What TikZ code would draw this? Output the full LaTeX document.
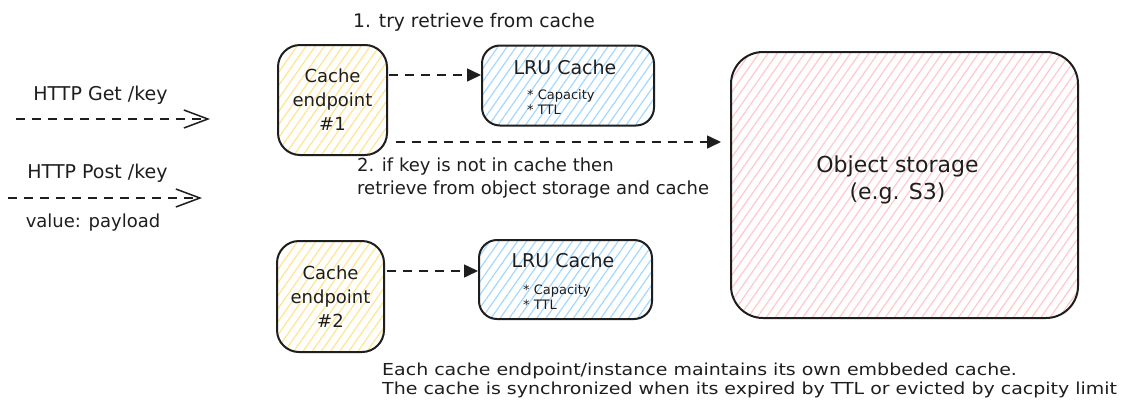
\documentclass[tikz,border=0pt]{standalone}
\usepackage{fontspec}
\setmainfont{DejaVu Sans}
\newfontfamily\widefont[FakeStretch=1.15]{DejaVu Sans}
\usetikzlibrary{arrows.meta,patterns.meta,calc}
\definecolor{ink}{HTML}{1E1E1E}
\definecolor{hyellow}{HTML}{FFE58F}
\definecolor{hblue}{HTML}{A5D8FF}
\definecolor{hred}{HTML}{FFC9C9}
\tikzset{
  box/.style={draw=ink, line width=2pt, inner sep=0pt, text=ink},
  epbox/.style={box, rounded corners=22pt, minimum width=108pt, minimum height=110pt,
    pattern={Lines[angle=55,distance=7.5pt,line width=1.2pt]}, pattern color=hyellow,
    font=\fontsize{18}{24}\selectfont, align=center},
  lrubox/.style={box, rounded corners=18pt, minimum width=172pt, minimum height=80pt,
    pattern={Lines[angle=55,distance=7.5pt,line width=1.2pt]}, pattern color=hblue},
  objbox/.style={box, rounded corners=32pt, minimum width=347pt, minimum height=266pt,
    pattern={Lines[angle=55,distance=7.5pt,line width=1.2pt]}, pattern color=hred},
  lrutitle/.style={text=ink, inner sep=0pt, font=\fontsize{19}{23}\selectfont},
  lrubul/.style={text=ink, inner sep=0pt, anchor=west, align=left, font=\fontsize{13}{15}\selectfont},
  objtext/.style={text=ink, inner sep=0pt, align=center, font=\fontsize{22}{27}\selectfont},
  label/.style={text=ink, inner sep=0pt, font=\fontsize{18}{23}\selectfont},
  httplabel/.style={label, font=\fontsize{19}{23}\selectfont},
  note/.style={text=ink, inner sep=0pt, anchor=west, align=left, font=\widefont\fontsize{16.5}{19}\selectfont},
  flow/.style={draw=ink, line width=1.5pt, dash pattern=on 9pt off 7pt, -{Triangle[length=14pt,width=13pt]}},
  http/.style={draw=ink, line width=1.5pt, dash pattern=on 9pt off 7pt, -{Straight Barb[length=24pt,width=18pt]}},
}
\begin{document}
\begin{tikzpicture}[x=1pt,y=-1pt]
\fill[white] (0,0) rectangle (1123,418);
\useasboundingbox (0,0) rectangle (1123,418);

% boxes
\node[epbox, minimum width=109pt, minimum height=110pt] (ep1) at (332.5,100) {Cache\\endpoint\\\#1};
\node[epbox, minimum width=107pt, minimum height=111pt] (ep2) at (330.5,296.5) {Cache\\endpoint\\\#2};
\node[lrubox] (lru1) at (568,85.5) {};
\node[lrubox, minimum width=173pt, minimum height=79pt] (lru2) at (565.5,279.5) {};
\node[objbox] (obj) at (904.5,185) {};

% box texts
\node[lrutitle] (lru1t) at (565,67) {LRU Cache};
\node[lrubul] (lru1b) at (527,102) {* Capacity\\* TTL};
\node[lrutitle] (lru2t) at (563,260) {LRU Cache};
\node[lrubul] (lru2b) at (523,297) {* Capacity\\* TTL};
\node[objtext] (objt) at (897.5,179.5) {Object storage\\(e.g. S3)};

% labels
\node[label, anchor=west, font=\fontsize{18.7}{23}\selectfont] (step1) at (353,22) {1. try retrieve from cache};
\node[label, anchor=west, align=left] (step2) at (357,178.5) {2. if key is not in cache then\\retrieve from object storage and cache};
\node[httplabel] (getl) at (100.5,95) {HTTP Get /key};
\node[httplabel] (postl) at (97.5,173) {HTTP Post /key};
\node[label] (payl) at (93,223) {value: payload};
\node[note] (notes) at (382,380.5) {Each cache endpoint/instance maintains its own embbeded cache.\\The cache is synchronized when its expired by TTL or evicted by cacpity limit};

% connectors
\coordinate (a1s) at ($(ep1.east)+(1,-25)$);
\draw[flow] (a1s) -- (a1s -| lru1.west);
\coordinate (a2s) at ($(ep1.east)+(8,42)$);
\draw[flow, shorten >=9pt] (a2s) -- (a2s -| obj.west);
\coordinate (a3s) at ($(ep2.east)+(2,-25.5)$);
\draw[flow] (a3s) -- (a3s -| lru2.west);

\coordinate (g1) at (16,119);
\coordinate (g2) at (210,119);
\draw[http] (g1) -- (g2);
\coordinate (p1) at (8,198);
\coordinate (p2) at (202,198);
\draw[http] (p1) -- (p2);
\end{tikzpicture}
\end{document}
